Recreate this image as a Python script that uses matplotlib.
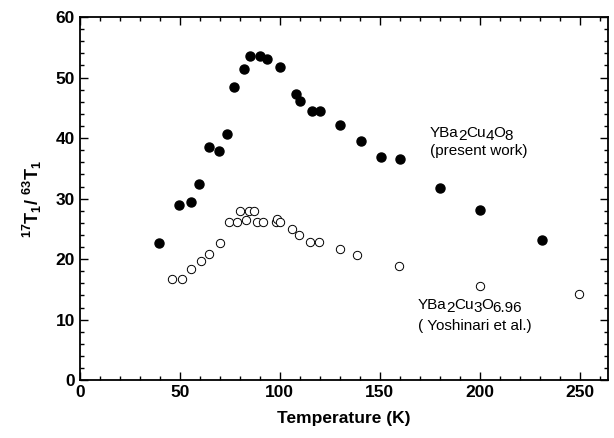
import matplotlib
matplotlib.use("Agg")
import matplotlib.pyplot as plt
from matplotlib import transforms
from matplotlib.ticker import MultipleLocator

plt.rcParams['font.family'] = ['Liberation Sans', 'DejaVu Sans']
plt.rcParams['mathtext.fontset'] = 'custom'
plt.rcParams['mathtext.rm'] = 'Liberation Sans'
plt.rcParams['mathtext.bf'] = 'Liberation Sans:bold'

# YBa2Cu4O8 (present work) - filled circles
t_124 = [39.6, 49.4, 55.6, 59.8, 64.4, 69.8, 73.7, 77.3, 81.9, 85.0, 90.2, 93.8,
         100.0, 108.1, 110.2, 116.0, 120.0, 130.0, 140.4, 150.6, 160.2, 180.0,
         200.0, 231.2]
r_124 = [22.7, 29.0, 29.4, 32.4, 38.6, 37.8, 40.7, 48.5, 51.4, 53.6, 53.6, 53.0,
         51.7, 47.3, 46.1, 44.5, 44.5, 42.1, 39.5, 36.8, 36.6, 31.8, 28.2, 23.2]

# YBa2Cu3O6.96 (Yoshinari et al.) - open circles
t_123 = [46.0, 51.2, 55.6, 60.6, 64.8, 70.0, 74.4, 78.8, 80.2, 83.1, 84.4, 87.3,
         88.5, 91.7, 97.9, 98.7, 100.0, 106.3, 109.8, 115.0, 119.4, 130.0, 138.7,
         159.8, 200.0, 249.6]
r_123 = [16.8, 16.8, 18.4, 19.7, 20.9, 22.6, 26.1, 26.1, 27.9, 26.5, 27.9, 27.9,
         26.1, 26.1, 26.1, 26.6, 26.1, 24.9, 24.0, 22.8, 22.8, 21.6, 20.7, 18.8,
         15.5, 14.3]

# formula pieces: (text, is_subscript)
formula_124 = [('YBa', False), ('2', True), ('Cu', False), ('4', True), ('O', False), ('8', True)]
formula_123 = [('YBa', False), ('2', True), ('Cu', False), ('3', True), ('O', False), ('6.96', True)]


def chem_label(ax, x, y, parts, size=11):
    """Draw a formula with full-size, lowered subscripts (as in the original figure)."""
    fig = ax.figure
    renderer = fig.canvas.get_renderer()
    dx = 0.0
    for txt, sub in parts:
        dy = -3.5 if sub else 0.0
        t = ax.text(x, y, txt, fontsize=size, va='center',
                    transform=transforms.offset_copy(ax.transData, fig=fig,
                                                     x=dx, y=dy, units='dots'))
        bb = t.get_window_extent(renderer=renderer)
        dx += bb.width - 0.5


fig = plt.figure(figsize=(6.14, 4.38), dpi=100)
ax = fig.add_axes([0.130, 0.132, 0.860, 0.829])

ax.plot(t_124, r_124, 'o', color='black', markersize=6.5, linestyle='none')
ax.plot(t_123, r_123, 'o', markerfacecolor='white', markeredgecolor='black',
        markeredgewidth=0.7, markersize=6, linestyle='none')

ax.set_xlim(0, 264)
ax.set_ylim(0, 60)

chem_label(ax, 175, 40.9, formula_124)
ax.text(175, 37.9, '(present work)', fontsize=11, va='center')
chem_label(ax, 169, 12.5, formula_123)
ax.text(169, 9.0, '( Yoshinari et al.)', fontsize=11, va='center')

ax.xaxis.set_major_locator(MultipleLocator(50))
ax.xaxis.set_minor_locator(MultipleLocator(10))
ax.yaxis.set_major_locator(MultipleLocator(10))
ax.yaxis.set_minor_locator(MultipleLocator(2))
ax.tick_params(which='both', direction='in', top=True, right=True, width=1)
ax.tick_params(which='major', length=6, labelsize=12.5)
ax.tick_params(which='minor', length=3)
for lab in ax.get_xticklabels() + ax.get_yticklabels():
    lab.set_fontweight('bold')
for sp in ax.spines.values():
    sp.set_linewidth(1.3)

ax.set_xlabel('Temperature (K)', fontsize=12.5, fontweight='bold', labelpad=8)
ax.set_ylabel(r'$^{\mathbf{17}}$T$_\mathbf{1}$/ $^{\mathbf{63}}$T$_\mathbf{1}$',
              fontsize=13, fontweight='bold', labelpad=8)

fig.savefig('out.png', dpi=100)
